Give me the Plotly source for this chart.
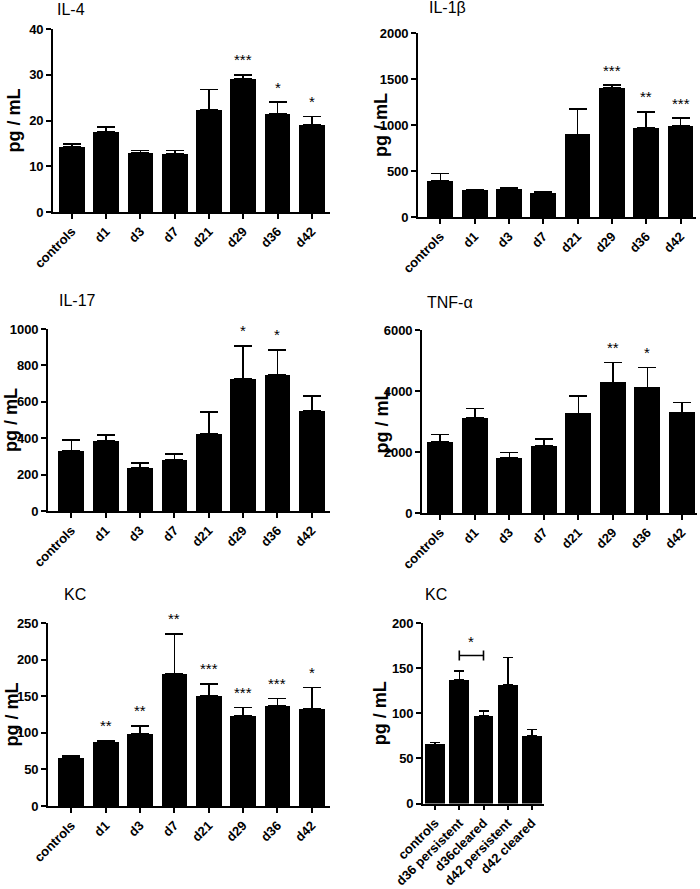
import plotly.graph_objects as go

W, H = 700, 889

days = ["controls", "d1", "d3", "d7", "d21", "d29", "d36", "d42"]
kc_groups = ["controls", "d36 persistent", "d36cleared", "d42 persistent", "d42 cleared"]

il4_mean = [14.3, 17.5, 13.0, 12.65, 22.4, 29.1, 21.4, 19.1]
il4_sem = [0.5, 1.1, 0.4, 0.75, 4.4, 0.9, 2.6, 1.8]
il4_sig = ["", "", "", "", "", "***", "*", "*"]

il1b_mean = [393, 291, 302, 265, 898, 1407, 971, 989]
il1b_sem = [80, 4, 14, 8, 277, 26, 171, 84]
il1b_sig = ["", "", "", "", "", "***", "**", "***"]

il17_mean = [331, 384, 239, 281, 423, 726, 750, 551]
il17_sem = [59, 33, 24, 33, 121, 182, 136, 81]
il17_sig = ["", "", "", "", "", "*", "*", ""]

tnf_mean = [2332, 3120, 1817, 2190, 3263, 4281, 4117, 3296]
tnf_sem = [241, 307, 165, 241, 580, 657, 657, 328]
tnf_sig = ["", "", "", "", "", "**", "*", ""]

kc_mean = [65.8, 86.8, 98.7, 181, 150.4, 123, 137, 132.4]
kc_sem = [2.3, 2.3, 11.0, 54, 16.4, 11.5, 10, 29.4]
kc_sig = ["", "**", "**", "**", "***", "***", "***", "*"]

kc2_mean = [65.6, 136.8, 97.0, 131.3, 75.2]
kc2_sem = [1.8, 10.0, 5.8, 30.3, 7.0]
kc2_bracket = ("d36 persistent", "d36cleared", 164, "*")

# panel layout: (title, cats, mean, sem, sig, ymax, dtick, x_px, y_px(top,zero), xrange, barwidth, capw, ytitle_x, title_pos)
panels = [
    ("IL-4", days, il4_mean, il4_sem, il4_sig, 40, 10, (53, 330), (29, 212), (-0.55, 7.53), 0.75, 9, 13, (55, 9)),
    ("IL-1β", days, il1b_mean, il1b_sem, il1b_sig, 2000, 500, (418, 696), (33, 217), (-0.65, 7.45), 0.75, 9, 381, (427, 8)),
    ("IL-17", days, il17_mean, il17_sem, il17_sig, 1000, 200, (48, 330), (329, 511), (-0.68, 7.53), 0.75, 9, 11, (57, 300)),
    ("TNF-α", days, tnf_mean, tnf_sem, tnf_sig, 6000, 2000, (422, 697), (330, 513), (-0.53, 7.44), 0.75, 9, 381, (425, 302)),
    ("KC", days, kc_mean, kc_sem, kc_sig, 250, 50, (48, 330), (623, 806), (-0.68, 7.53), 0.75, 9, 11, (62, 594)),
    ("KC", kc_groups, kc2_mean, kc2_sem, [""] * 5, 200, 50, (423, 544), (623, 803.5), (-0.5, 4.5), 0.82, 5, 380, (423, 594)),
]

FONT = "Liberation Sans, Arial, sans-serif"
fig = go.Figure()
annotations = []
layout = {}

for i, (title, cats, mean, sem, sig, ymax, dtick, xpx, ypx, xr, bw, capw, ytx, tpos) in enumerate(panels, start=1):
    xa = "x" if i == 1 else f"x{i}"
    ya = "y" if i == 1 else f"y{i}"
    fig.add_trace(go.Bar(
        x=cats, y=mean, width=bw, xaxis=xa, yaxis=ya,
        marker=dict(color="black", line=dict(width=0)),
        error_y=dict(type="data", symmetric=False, array=sem, arrayminus=[0] * len(sem),
                     color="black", thickness=1.6, width=capw),
        showlegend=False, hoverinfo="skip",
    ))
    common_line = dict(showline=True, linecolor="black", linewidth=1.6, ticks="outside",
                       tickcolor="black", tickwidth=1.6, ticklen=5, showgrid=False,
                       zeroline=False, automargin=False)
    layout["xaxis" if i == 1 else f"xaxis{i}"] = dict(
        domain=[xpx[0] / W, xpx[1] / W], anchor=ya, type="category", range=list(xr),
        tickangle=-45, tickfont=dict(family=FONT, size=13, color="black", weight="bold"),
        **common_line)
    layout["yaxis" if i == 1 else f"yaxis{i}"] = dict(
        domain=[1 - ypx[1] / H, 1 - ypx[0] / H], anchor=xa, range=[0, ymax], dtick=dtick,
        tickfont=dict(family=FONT, size=13, color="black", weight="bold"),
        **common_line)
    # panel title
    annotations.append(dict(text=title, x=tpos[0] / W, y=1 - tpos[1] / H, xref="paper", yref="paper",
                            xanchor="left", yanchor="middle", showarrow=False,
                            font=dict(family=FONT, size=16, color="black")))
    # y axis title
    annotations.append(dict(text="pg / mL", x=ytx / W, y=1 - (ypx[0] + ypx[1]) / 2 / H,
                            xref="paper", yref="paper", textangle=-90, xanchor="center",
                            yanchor="middle", showarrow=False,
                            font=dict(family=FONT, size=18, color="black", weight="bold")))
    # significance stars
    for c, m, s, g in zip(cats, mean, sem, sig):
        if g:
            annotations.append(dict(text=g, x=c, y=m + s, xref=xa, yref=ya, xanchor="center",
                                    yanchor="middle", yshift=15, showarrow=False,
                                    font=dict(family=FONT, size=15, color="black")))

# bracket in last panel
b0, b1, by, bsig = kc2_bracket
fig.add_trace(go.Scatter(
    x=[b0, b1, None, b0, b0, None, b1, b1],
    y=[by, by, None, by - 5.5, by + 5.5, None, by - 5.5, by + 5.5],
    mode="lines", line=dict(color="black", width=1.6), xaxis="x6", yaxis="y6",
    showlegend=False, hoverinfo="skip", cliponaxis=False))
annotations.append(dict(text=bsig, x=(kc_groups.index(b0) + kc_groups.index(b1)) / 2, y=by,
                        xref="x6", yref="y6", xanchor="center",
                        yanchor="middle", yshift=14, showarrow=False,
                        font=dict(family=FONT, size=15, color="black")))

fig.update_layout(width=W, height=H, margin=dict(l=0, r=0, t=0, b=0, autoexpand=False),
                  paper_bgcolor="white", plot_bgcolor="white", annotations=annotations,
                  bargap=0, **layout)
fig.write_html("out.html", config={"displayModeBar": False},
               post_script="document.body.style.margin='0px';document.body.style.padding='0px';")
